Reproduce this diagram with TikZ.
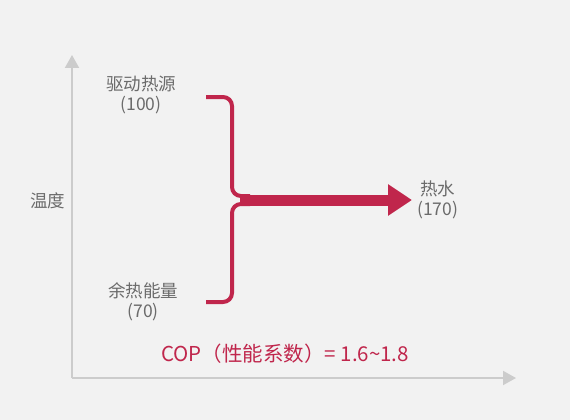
\documentclass[tikz,border=0pt]{standalone}
\usepackage{fontspec}
\setmainfont{Noto Sans CJK SC}
\usepackage{xcolor}
\usetikzlibrary{calc, positioning, arrows.meta}
\definecolor{bgcol}{HTML}{F2F2F2}
\definecolor{axiscol}{HTML}{CCCCCC}
\definecolor{flowcol}{HTML}{C0264C}
\definecolor{txtcol}{HTML}{6B6B6B}

\begin{document}
\begin{tikzpicture}
      [x=1pt, y=-1pt,
       lbl/.style={text=txtcol, align=center, inner sep=0pt, font=\fontsize{17.5}{19.5}\selectfont},
       axis/.style={draw=axiscol, line width=2pt, -{Triangle[width=14pt, length=13pt]}},
       brace/.style={draw=flowcol, line width=4pt, rounded corners=9pt},
       flow/.style={draw=flowcol, line width=11pt, -{Triangle[width=30pt, length=24pt]}}]
      \useasboundingbox[fill=bgcol] (0,0) rectangle (570,420);

      % axes %
      \coordinate (o) at (72,378);
      \coordinate (ytop) at (72,55);
      \coordinate (xend) at (516,378);
      \draw[axis] (o) -- (ytop);
      \draw[axis] (o) -- (xend);
      \node[lbl] (temp) at (48,201) {温度};

      % nodes %
      \node[lbl] (src) at (141,95) {驱动热源\\(100)};
      \node[lbl] (waste) at (143,302) {余热能量\\(70)};
      \coordinate (srcend) at (206,97);
      \coordinate (wasteend) at (206,302);
      \coordinate (join) at (232,200);
      \coordinate (tip) at (412,200);
      \node[lbl, right=5pt of tip] (water) {热水\\(170)};

      % edges %
      \draw[brace] (srcend) -| ($(join)+(0,-4)$) -- ($(join)+(18,-4)$);
      \draw[brace] (wasteend) -| ($(join)+(0,4)$) -- ($(join)+(18,4)$);
      \draw[flow] ($(join)+(8,0)$) -- (tip);

      \node[text=flowcol, inner sep=0pt, font=\fontsize{20.5}{22}\selectfont] (cop) at (285,354)
        {COP（性能系数）= 1.6\textasciitilde1.8};
    \end{tikzpicture}
\end{document}
